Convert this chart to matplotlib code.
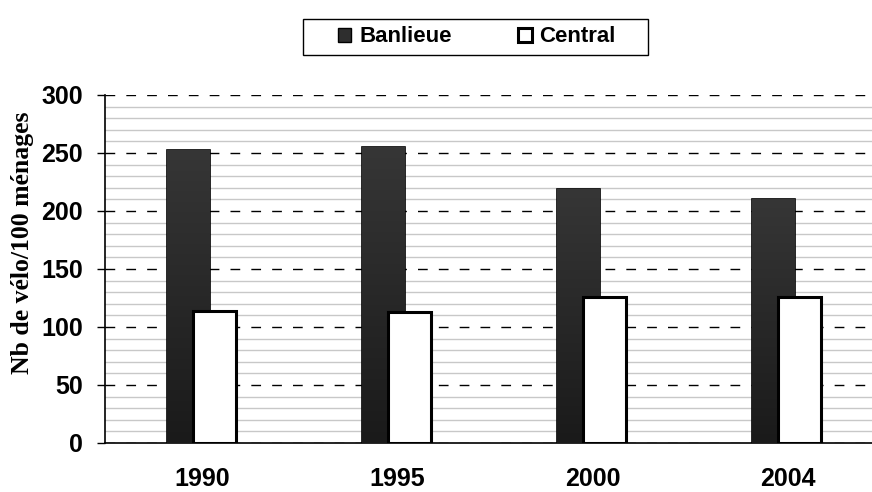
import numpy as np
import matplotlib
matplotlib.use("Agg")
import matplotlib.pyplot as plt
from matplotlib.patches import Patch, Rectangle

years = ["1990", "1995", "2000", "2004"]
banlieue = [253, 255, 219, 210]
central = [114, 113, 126, 126]

plt.rcParams["font.family"] = ["Liberation Sans", "DejaVu Sans"]
plt.rcParams["font.weight"] = "bold"

W, H = 872, 492
fig = plt.figure(figsize=(W / 100, H / 100), dpi=100)
# plot area runs a bit past the right edge of the picture, as in the original
ax = fig.add_axes([105 / W, (H - 443) / H, 780 / W, 348 / H])

x = np.arange(len(years))
w = 0.22

# gradient for the dark bars
grad = np.linspace(0, 1, 256).reshape(-1, 1)
cmap = matplotlib.colors.LinearSegmentedColormap.from_list("g", ["#1a1a1a", "#363636"])

bars_b = ax.bar(x - 0.07, banlieue, w, color="#2e2e2e", edgecolor="black", lw=1.2, zorder=3)
for b in bars_b:
    im = ax.imshow(grad, extent=[b.get_x(), b.get_x() + b.get_width(), 0, b.get_height()],
                   origin="lower", cmap=cmap, aspect="auto", zorder=3.5)
    im.set_clip_path(b)
bars_c = ax.bar(x + 0.06, central, w, color="white", edgecolor="black", lw=2.2, zorder=4)

ax.set_xlim(-0.5, 3.5)
ax.set_ylim(0, 300)
ax.set_yticks(range(0, 301, 50))
ax.set_yticks(range(0, 301, 10), minor=True)
ax.grid(which="minor", axis="y", color="#c8c8c8", lw=1, zorder=0)
ax.grid(which="major", axis="y", color="black", lw=1, ls=(0, (7, 8)), zorder=1)
ax.tick_params(axis="y", which="minor", length=0)
ax.tick_params(axis="y", which="major", length=6, width=1, labelsize=18, pad=10)
ax.set_xticks(x)
ax.set_xticklabels(years)
ax.tick_params(axis="x", length=0, labelsize=18, pad=17)
for s in ["top", "right"]:
    ax.spines[s].set_visible(False)
ax.spines["left"].set_linewidth(1.2)
ax.spines["bottom"].set_linewidth(1.2)

fig.text(23 / W, 1 - 243 / H, "Nb de vélo/100 ménages", rotation=90, ha="center", va="center",
         family=["Liberation Serif", "DejaVu Serif"], fontweight="bold", fontsize=18.5)

handles = [Patch(facecolor="#2e2e2e", edgecolor="black", lw=1),
           Patch(facecolor="white", edgecolor="black", lw=2.2)]
leg = fig.legend(handles, ["Banlieue", "Central"], loc="center", ncol=2,
                 bbox_to_anchor=(477 / W, 1 - 37 / H), frameon=False,
                 fontsize=16, handlelength=0.6, handleheight=0.6,
                 columnspacing=3.0, handletextpad=0.35, borderpad=0, borderaxespad=0)
fig.patches.append(Rectangle((303 / W, 1 - 55 / H), 345 / W, 36 / H, transform=fig.transFigure,
                             facecolor="none", edgecolor="black", lw=1.0))

fig.savefig("out.png", dpi=100)
